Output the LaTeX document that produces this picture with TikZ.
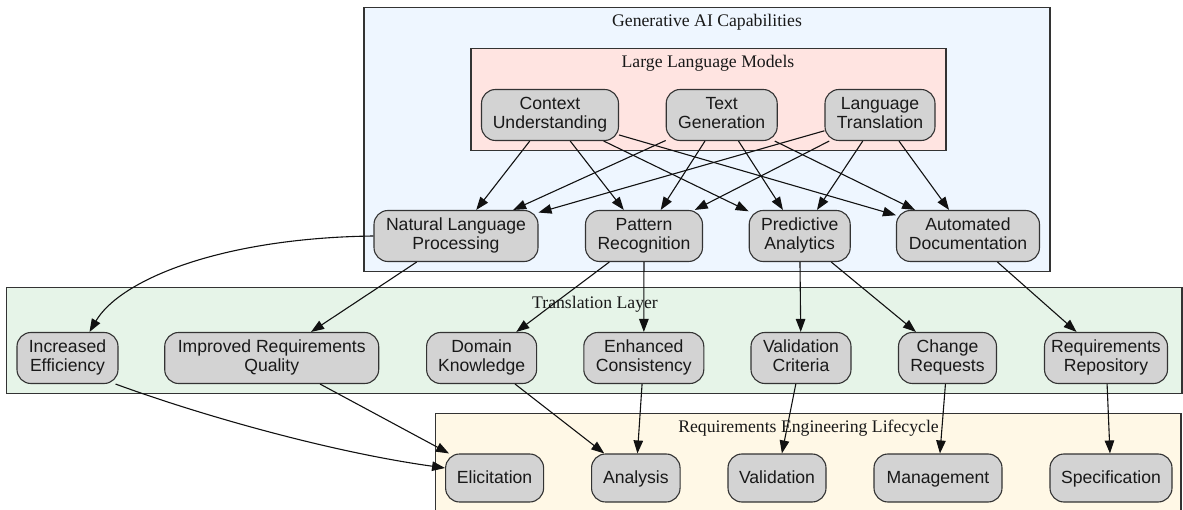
\documentclass[tikz,border=0pt]{standalone}
\usepackage{fontspec}
\setmainfont{Liberation Serif}
\newfontfamily\nodefont{Liberation Sans}
\usetikzlibrary{arrows.meta}
\definecolor{nodefill}{HTML}{D3D3D3}
\definecolor{nodeborder}{HTML}{333333}
\definecolor{edgecol}{HTML}{111111}
\definecolor{genfill}{HTML}{EEF6FF}
\definecolor{llmfill}{HTML}{FFE4E1}
\definecolor{trfill}{HTML}{E6F4E8}
\definecolor{refill}{HTML}{FFF8E6}
\newcommand\boxstrut{\rule[-4.4pt]{0pt}{19.4pt}}
\tikzset{
  box/.style={draw=nodeborder, fill=nodefill, rounded corners=14pt, line width=1.1pt,
    align=center, font=\nodefont\fontsize{17.6}{19.4}\selectfont, text=black!90,
    inner sep=0pt, minimum height=51pt,
    execute at begin node=\boxstrut, execute at end node=\boxstrut},
  onebox/.style={box, minimum height=48pt},
  cluster/.style={draw=nodeborder, line width=1.1pt},
  cltitle/.style={font=\fontsize{17.7}{20}\selectfont, inner sep=0pt, text=black!90},
  edge/.style={draw=edgecol, line width=1.1pt, -{Triangle[length=13pt,width=9.5pt]}}
}
\begin{document}
\begin{tikzpicture}[x=1pt,y=-1pt]
\useasboundingbox (0,0) rectangle (1183,510);
% clusters
\draw[cluster, fill=genfill] (364,7.3) rectangle (1050,271.7);
\draw[cluster, fill=llmfill] (471,48.3) rectangle (946,150.7);
\draw[cluster, fill=trfill] (6.5,287.3) rectangle (1182,393.3);
\draw[cluster, fill=refill] (435.5,413.3) rectangle (1181,514);
\node[cltitle] (t1) at (707,22) {Generative AI Capabilities};
\node[cltitle] (t2) at (708,63) {Large Language Models};
\node[cltitle] (t3) at (595,304) {Translation Layer};
\node[cltitle] (t4) at (808.5,428.3) {Requirements Engineering Lifecycle};
% LLM nodes
\node[box, minimum width=137pt] (cu) at (550,115) {Context\\Understanding};
\node[box, minimum width=111pt] (tg) at (721.7,115) {Text\\Generation};
\node[box, minimum width=110pt] (lt) at (880,115) {Language\\Translation};
% capability nodes
\node[box, minimum width=164pt] (nlp) at (456,236) {Natural Language\\Processing};
\node[box, minimum width=117pt] (pr) at (644,236) {Pattern\\Recognition};
\node[box, minimum width=101pt] (pa) at (799.7,236) {Predictive\\Analytics};
\node[box, minimum width=143pt] (ad) at (968,236) {Automated\\Documentation};
% translation layer
\node[box, minimum width=101pt] (ie) at (67.5,358) {Increased\\Efficiency};
\node[box, minimum width=214pt] (irq) at (271.7,358) {Improved Requirements\\Quality};
\node[box, minimum width=110pt] (dk) at (481.6,358) {Domain\\Knowledge};
\node[box, minimum width=120pt] (ec) at (643.8,358) {Enhanced\\Consistency};
\node[box, minimum width=100pt] (vc) at (801,358) {Validation\\Criteria};
\node[box, minimum width=98pt] (cr) at (947.5,358) {Change\\Requests};
\node[box, minimum width=123pt] (rr) at (1106,358) {Requirements\\Repository};
% lifecycle
\node[onebox, minimum width=98pt] (el) at (494.6,478) {Elicitation};
\node[onebox, minimum width=88.5pt] (an) at (635.8,478) {Analysis};
\node[onebox, minimum width=98pt] (va) at (777,478) {Validation};
\node[onebox, minimum width=128pt] (ma) at (938,478) {Management};
\node[onebox, minimum width=122pt] (sp) at (1111,478) {Specification};
% edges LLM -> capabilities
\foreach \s in {cu,tg,lt}{
  \foreach \t in {nlp,pr,pa,ad}{
    \draw[edge] (\s) -- (\t);
  }
}
% capabilities -> translation
\draw[edge] (nlp.west) .. controls (220,238) and (120,280) .. ([xshift=22pt]ie.north);
\draw[edge] (nlp) -- (irq);
\draw[edge] (pr) -- (dk);
\draw[edge] (pr) -- (ec);
\draw[edge] (pa) -- (vc);
\draw[edge] (pa) -- (cr);
\draw[edge] (ad) -- (rr);
% translation -> lifecycle
\draw[edge] ([xshift=-3pt]ie.south east) .. controls (200,415) and (330,452) .. ([yshift=10pt]el.west);
\draw[edge] (irq) -- (el);
\draw[edge] (dk) -- (an);
\draw[edge] (ec) -- (an);
\draw[edge] (vc) -- (va);
\draw[edge] (cr) -- (ma);
\draw[edge] (rr) -- (sp);
\end{tikzpicture}
\end{document}
